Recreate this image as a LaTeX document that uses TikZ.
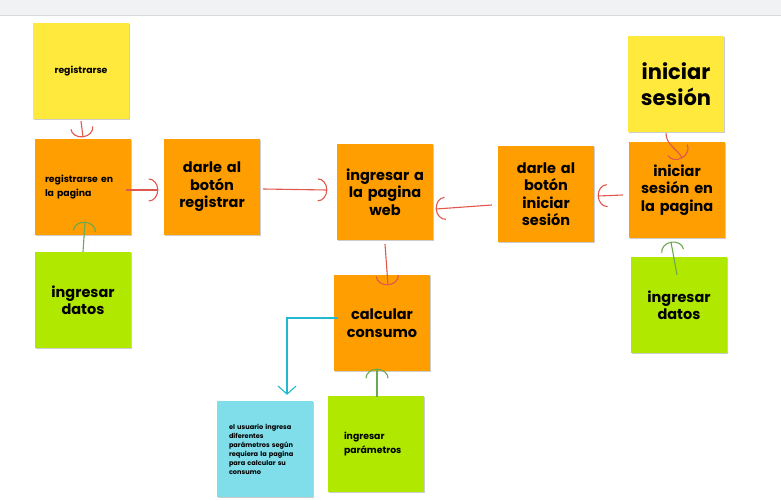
\documentclass[tikz,border=0pt]{standalone}
\usepackage{fontspec}
\setmainfont{Poppins}
\usetikzlibrary{arrows.meta,calc,shadows,decorations.markings}
\definecolor{amarillo}{HTML}{FFE93D}
\definecolor{naranja}{HTML}{FF9E00}
\definecolor{verde}{HTML}{B0E800}
\definecolor{celeste}{HTML}{80DEEA}
\definecolor{rojo}{HTML}{E0574C}
\definecolor{verdeosc}{HTML}{6AA84F}
\definecolor{cian}{HTML}{22B8D0}
\definecolor{barra}{HTML}{F1F2F4}
\definecolor{linea}{HTML}{D9DADD}
\tikzset{
	hook/.style={postaction={decorate, decoration={markings, mark=at position 1 with {
		\draw[line width=1.1pt, draw=#1] (-9pt,11pt) arc[start angle=90, end angle=-90, x radius=9pt, y radius=11pt];}}}}
}
\begin{document}
\begin{tikzpicture}[x=1pt,y=-1pt,
	note/.style={minimum width=96pt, minimum height=96pt, inner sep=0pt, align=center, text width=86pt,
		drop shadow={shadow xshift=0.6pt, shadow yshift=-1pt, opacity=0.2, fill=black}},
	big/.style={font=\fontsize{14.5}{17.5}\selectfont\bfseries},
	huge/.style={font=\fontsize{21}{26}\selectfont\bfseries},
	small/.style={font=\fontsize{9.3}{13.5}\selectfont\bfseries},
	tiny/.style={font=\fontsize{6.6}{9}\selectfont\bfseries},
	rline/.style={draw=rojo, line width=1.1pt, hook=rojo},
	gline/.style={draw=verdeosc, line width=1.1pt, hook=verdeosc},
]
\useasboundingbox (0,0) rectangle (781,500);
\fill[barra] (0,0) rectangle (781,15);
\draw[linea, line width=1.5pt] (0,15.5) -- (781,15.5);

% notas
\node[note, fill=amarillo, small] (reg) at (81,71) {registrarse};
\node[note, fill=naranja, small, align=left, text width=76pt] (regpag) at (83,187) {registrarse en\\la pagina};
\node[note, fill=verde, big] (datosA) at (83,300) {ingresar\\datos};
\node[note, fill=naranja, big] (btnreg) at (212,187) {darle al\\botón\\registrar};
\node[note, fill=naranja, big] (web) at (385,192) {ingresar a\\la pagina\\web};
\node[note, fill=naranja, big] (btnini) at (546,194) {darle al\\botón\\iniciar\\sesión};
\node[note, fill=amarillo, huge] (ini) at (676,84) {iniciar\\sesión};
\node[note, fill=naranja, big] (inipag) at (677,190) {iniciar\\sesión en\\la pagina};
\node[note, fill=verde, big] (datosB) at (679,305) {ingresar\\datos};
\node[note, fill=naranja, big] (calc) at (382,323) {calcular\\consumo};
\node[note, fill=celeste, tiny, align=left, text width=72pt] (usuario) at (265,449)
	{el usuario ingresa\\diferentes\\parámetros según\\requiera la pagina\\para calcular su\\consumo};
\node[note, fill=verde, small, align=left, text width=64pt] (param) at (376,444) {ingresar\\parámetros};

% flechas
\draw[rline] ($(reg.south)+(0,2)$) -- ($(regpag.north)+(0,-2)$);
\draw[rline] ($(regpag.east)+(-5,3)$) -- ($(btnreg.west)+(-6,3)$);
\draw[rline] ($(btnreg.east)+(3,2)$) -- ($(web.west)+(-10,-2)$);
\draw[rline] ($(btnini.west)+(-6,11)$) -- ($(web.east)+(3,17)$);
\draw[rline] ($(inipag.west)+(-6,5)$) -- ($(btnini.east)+(4,2)$);
\draw[rline] ($(ini.south)+(-10,1)$) to[out=90+180,in=90+30] ($(inipag.north)+(5,16)$);
\draw[rline] ($(web.south)+(0,4)$) -- ($(calc.north)+(6,10)$);
\draw[gline] ($(param.north)+(1,1)$) -- ($(calc.south)+(-5,-2)$);
\draw[gline] (datosA.north) -- ($(regpag.south)+(2,-13)$);
\draw[gline] ($(datosB.north)+(-2,18)$) -- ($(inipag.south)+(-6,4)$);
\draw[draw=cian, line width=1.1pt, -{Straight Barb[length=8pt,width=18pt]}]
	($(calc.west)+(4,-5)$) -| ($(usuario.north)+(22,-6)$);

\end{tikzpicture}
\end{document}
